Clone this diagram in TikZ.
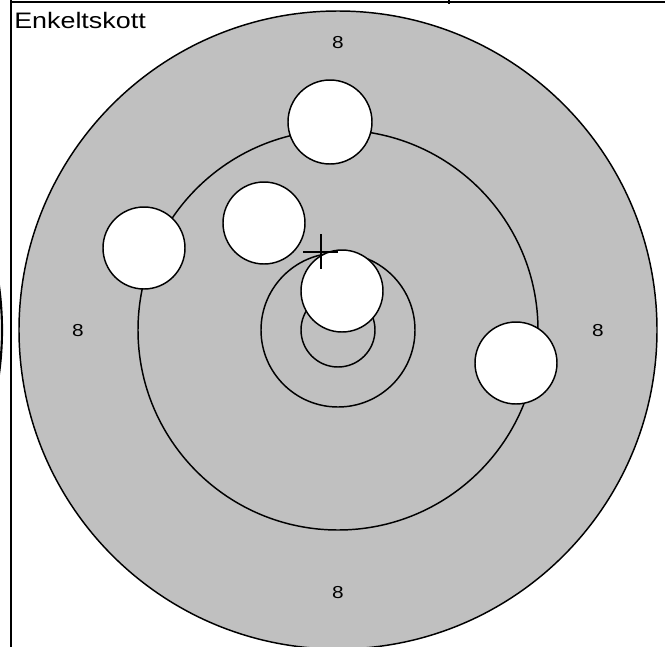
\documentclass[tikz,border=0pt]{standalone}
\usepackage{fontspec}
\setmainfont{Liberation Sans}
\usetikzlibrary{positioning}
\definecolor{targetgrey}{HTML}{C0C0C0}
\newcommand{\wide}[1]{\scalebox{1.2}[1]{#1}}
\tikzset{ring/.style={draw,line width=1.1pt},shot/.style={draw,fill=white,line width=1.1pt},score/.style={font=\fontsize{13}{15}\selectfont,inner sep=0pt},frame/.style={line width=1.3pt}}

\begin{document}
\begin{tikzpicture}[x=0.75pt,y=-0.75pt]
\useasboundingbox (0,0) rectangle (665,647);
\clip (0,0) rectangle (665,647);
% neighbour target, only its edge shows
\draw[ring,line width=1.6pt] (-318,330) circle[radius=320];
% target rings
\draw[ring,fill=targetgrey] (338,330) circle[radius=319];
\draw[ring] (338,330) circle[radius=200];
\draw[ring] (338,330) circle[radius=77];
\draw[ring] (338,330) circle[radius=37];
% scores
\node[score] (s-top) at (338,43) {\wide{8}};
\node[score] (s-left) at (78,331) {\wide{8}};
\node[score] (s-right) at (598,331) {\wide{8}};
\node[score] (s-bottom) at (338,593) {\wide{8}};
% shots
\draw[shot] (330,122) circle[radius=42];
\draw[shot] (264,223) circle[radius=41];
\draw[shot] (144,248) circle[radius=41];
\draw[shot] (342,291) circle[radius=41];
\draw[shot] (516,363) circle[radius=41];
% aim point
\coordinate (aim) at (321,252);
\draw[line width=1.1pt] (aim) +(-18,0) -- +(17,0);
\draw[line width=1.1pt] (aim) +(0,-18) -- +(0,17);
% frame
\draw[frame] (11,0) -- (11,647);
\draw[frame] (11,2) -- (665,2);
\draw[line width=1pt] (449,0) -- (449,4);
\node[anchor=base west,inner sep=0pt,font=\fontsize{16.8}{19}\selectfont] (title) at (14,28) {\wide{Enkeltskott}};
\end{tikzpicture}
\end{document}
